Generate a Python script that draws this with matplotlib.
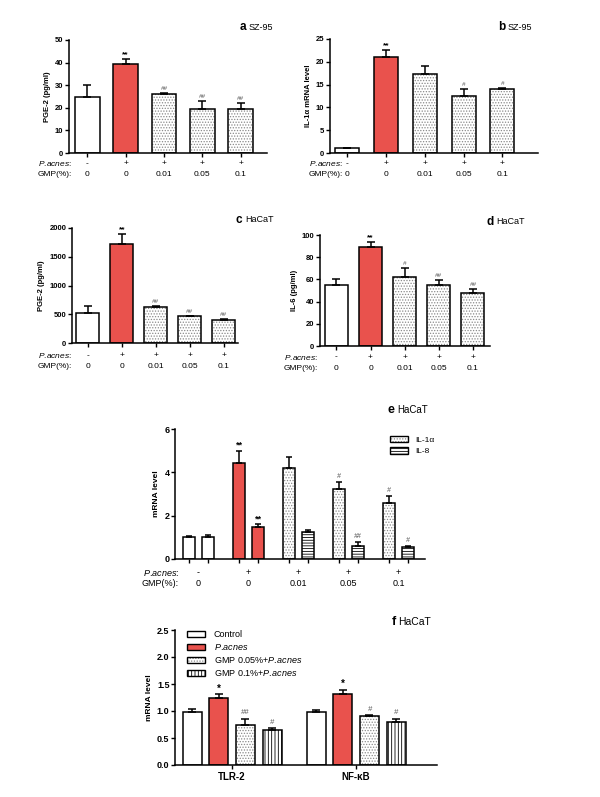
import numpy as np
import matplotlib
matplotlib.use('Agg')
import matplotlib.pyplot as plt
from matplotlib.patches import Patch
from matplotlib.transforms import blended_transform_factory

plt.rcParams['font.family'] = ['Liberation Sans', 'DejaVu Sans']
plt.rcParams['mathtext.fontset'] = 'custom'
plt.rcParams['mathtext.rm'] = 'Liberation Sans'
plt.rcParams['mathtext.it'] = 'Liberation Sans:italic'
plt.rcParams['mathtext.bf'] = 'Liberation Sans:bold'
plt.rcParams['hatch.linewidth'] = 0.6

# ---------------- data ----------------
pacnes_row = ['-', '+', '+', '+', '+']
gmp_row = ['0', '0', '0.01', '0.05', '0.1']

a_vals = [24.6, 39.2, 26.2, 19.5, 19.4]
a_errs = [5.7, 2.5, 0.4, 3.3, 2.9]
a_marks = ['', '**', '##', '##', '##']

b_vals = [1.0, 21.0, 17.3, 12.5, 14.0]
b_errs = [0.1, 1.5, 1.8, 1.6, 0.15]
b_marks = ['', '**', '', '#', '#']

c_vals = [522, 1728, 626, 464, 400]
c_errs = [116, 168, 15, 12, 22]
c_marks = ['', '**', '##', '##', '##']

d_vals = [54.7, 89.5, 62.5, 55.0, 48.0]
d_errs = [5.7, 4.2, 8.0, 4.8, 3.6]
d_marks = ['', '**', '#', '##', '##']

e_il1a = [1.02, 4.42, 4.18, 3.25, 2.60]
e_il1a_err = [0.04, 0.58, 0.55, 0.29, 0.31]
e_il1a_marks = ['', '**', '', '#', '#']
e_il8 = [1.02, 1.48, 1.23, 0.62, 0.55]
e_il8_err = [0.08, 0.12, 0.11, 0.15, 0.03]
e_il8_marks = ['', '**', '', '##', '#']

PACNES_IT = '$\\mathit{P.\\!acnes}$'
f_genes = ['TLR-2', 'NF-κB']
f_groups = ['Control', PACNES_IT, 'GMP 0.05%+' + PACNES_IT, 'GMP 0.1%+' + PACNES_IT]
f_vals = [[0.99, 1.25, 0.74, 0.64], [0.99, 1.31, 0.90, 0.79]]
f_errs = [[0.04, 0.06, 0.12, 0.04], [0.02, 0.08, 0.03, 0.07]]
f_marks = [['', '*', '##', '#'], ['', '*', '#', '#']]

# ---------------- style ----------------
RED = '#E9524D'
DOTC = '#8a8a8a'
W, H = 600, 797
fig = plt.figure(figsize=(6, 7.97), dpi=100)


def rect(l, r, t, b):
    return [l / W, 1 - b / H, (r - l) / W, (b - t) / H]


def draw_bar(ax, x, h, w, style):
    if style == 'white':
        ax.bar(x, h, w, color='white', edgecolor='k', lw=1.1, zorder=2)
    elif style == 'red':
        ax.bar(x, h, w, color=RED, edgecolor='k', lw=1.1, zorder=2)
    else:
        hatch = {'dot': '......', 'hline': '------', 'vline': '|||||'}[style]
        hc = DOTC if style == 'dot' else 'k'
        ax.bar(x, h, w, color='white', edgecolor=hc, hatch=hatch, lw=0, zorder=2)
        ax.bar(x, h, w, fill=False, edgecolor='k', lw=1.1, zorder=2.5)


def style_handle(style):
    if style == 'white':
        return Patch(facecolor='white', edgecolor='k', lw=1.0)
    if style == 'red':
        return Patch(facecolor=RED, edgecolor='k', lw=1.0)
    hatch = {'dot': '......', 'hline': '------', 'vline': '|||||'}[style]
    hc = DOTC if style == 'dot' else 'k'
    return (Patch(facecolor='white', edgecolor=hc, hatch=hatch, lw=0),
            Patch(fill=False, edgecolor='k', lw=1.0))


def errbar(ax, x, h, e, cap=3):
    ax.errorbar([x], [h], yerr=[[0], [e]], fmt='none', ecolor='k',
                elinewidth=1.1, capsize=cap, capthick=1.1, zorder=3)


def mark(ax, x, y, m, fs=6):
    if not m:
        return
    if m.startswith('*'):
        ax.annotate(m, (x, y), xytext=(0, 0.5), textcoords='offset points',
                    ha='center', va='bottom', fontsize=fs, fontweight='bold', color='k')
    else:
        ax.annotate(m, (x, y), xytext=(0, 1.5), textcoords='offset points',
                    ha='center', va='bottom', fontsize=fs - 1.5, style='italic', color='#555555')


def base_axes(ax, ymax, ystep, ylabel, fs_tick=5.5, fs_lab=5.5, fmt=None):
    for s in ['top', 'right']:
        ax.spines[s].set_visible(False)
    for s in ['left', 'bottom']:
        ax.spines[s].set_linewidth(1.1)
    ax.set_ylim(0, ymax)
    yt = np.arange(0, ymax + ystep / 2, ystep)
    ax.set_yticks(yt)
    if fmt:
        ax.set_yticklabels([fmt % v for v in yt])
    ax.tick_params(axis='y', length=3, width=1.0, labelsize=fs_tick, pad=1)
    ax.tick_params(axis='x', length=3, width=1.0, labelbottom=False)
    for lab in ax.get_yticklabels():
        lab.set_fontweight('bold')
    ax.set_ylabel(ylabel, fontsize=fs_lab, fontweight='bold', labelpad=3)


def row_labels(ax, xs, dx_px, dy1_px, dy2_px, fs=6):
    tr = blended_transform_factory(ax.transData, ax.transAxes)
    for x, p, g in zip(xs, pacnes_row, gmp_row):
        ax.annotate(p, (x, 0), xycoords=tr, xytext=(0, -dy1_px * 0.72), textcoords='offset points',
                    ha='center', va='center', fontsize=fs, annotation_clip=False)
        ax.annotate(g, (x, 0), xycoords=tr, xytext=(0, -dy2_px * 0.72), textcoords='offset points',
                    ha='center', va='center', fontsize=fs, annotation_clip=False)
    ax.annotate(PACNES_IT + ':', (0, 0), xycoords='axes fraction', xytext=(dx_px * 0.72, -dy1_px * 0.72),
                textcoords='offset points', ha='right', va='center', fontsize=fs, annotation_clip=False)
    ax.annotate('GMP(%):', (0, 0), xycoords='axes fraction', xytext=(dx_px * 0.72, -dy2_px * 0.72),
                textcoords='offset points', ha='right', va='center', fontsize=fs, annotation_clip=False)


def panel_label(letter, cell, x_px, y_px, fs_l=8.5, fs_c=6.5):
    fig.text((x_px - 1.5) / W, 1 - y_px / H, letter, ha='right', va='center', fontsize=fs_l, fontweight='bold')
    fig.text((x_px + 1) / W, 1 - y_px / H, cell, ha='left', va='center', fontsize=fs_c)


single_styles = ['white', 'red', 'dot', 'dot', 'dot']


def single_panel(r, vals, errs, marks, ymax, ystep, ylabel, xlim, width, dx, dy1, dy2):
    ax = fig.add_axes(rect(*r))
    xs = np.arange(len(vals))
    for x, v, e, m, s in zip(xs, vals, errs, marks, single_styles):
        draw_bar(ax, x, v, width, s)
        errbar(ax, x, v, e)
        mark(ax, x, v + e, m)
    base_axes(ax, ymax, ystep, ylabel)
    ax.set_xlim(*xlim)
    ax.set_xticks(xs)
    row_labels(ax, xs, dx, dy1, dy2)
    return ax


# ---- panel a ----
single_panel((69, 267, 40, 153), a_vals, a_errs, a_marks, 50, 10, 'PGE-2 (pg/ml)',
             (-0.48, 4.69), 0.65, 3, 11, 22)
panel_label('a', 'SZ-95', 248, 27)

# ---- panel b ----
single_panel((330, 538, 39, 153), b_vals, b_errs, b_marks, 25, 5, 'IL-1α mRNA level',
             (-0.45, 4.92), 0.62, 13, 11, 22)
panel_label('b', 'SZ-95', 507, 27)

# ---- panel c ----
single_panel((72, 238, 228, 343), c_vals, c_errs, c_marks, 2000, 500, 'PGE-2 (pg/ml)',
             (-0.47, 4.42), 0.68, 0, 13, 24)
panel_label('c', 'HaCaT', 244, 220)

# ---- panel d ----
single_panel((320, 490, 235, 346), d_vals, d_errs, d_marks, 100, 20, 'IL-6 (pg/ml)',
             (-0.48, 4.5), 0.67, -2, 11, 22)
panel_label('d', 'HaCaT', 495, 222)

# ---- panel e ----
axe = fig.add_axes(rect(175, 425, 429, 559))
gx = np.arange(5)
off, bw = 0.19, 0.25
il8_styles = ['white', 'red', 'hline', 'hline', 'hline']
for i in range(5):
    draw_bar(axe, gx[i] - off, e_il1a[i], bw, single_styles[i])
    errbar(axe, gx[i] - off, e_il1a[i], e_il1a_err[i], cap=2.5)
    mark(axe, gx[i] - off, e_il1a[i] + e_il1a_err[i], e_il1a_marks[i], fs=6.5)
    draw_bar(axe, gx[i] + off, e_il8[i], bw, il8_styles[i])
    errbar(axe, gx[i] + off, e_il8[i], e_il8_err[i], cap=2.5)
    mark(axe, gx[i] + off, e_il8[i] + e_il8_err[i], e_il8_marks[i], fs=6.5)
base_axes(axe, 6, 2, 'mRNA level', fs_tick=6.5, fs_lab=6)
axe.set_xlim(-0.47, 4.53)
axe.set_xticks(np.concatenate([gx - off, gx + off]))
row_labels(axe, gx, 4, 14, 25, fs=6.5)
axe.legend([style_handle('dot'), style_handle('hline')], ['IL-1α', 'IL-8'],
           loc='upper left', bbox_to_anchor=(0.86, 0.95), frameon=False, fontsize=6,
           handlelength=2.2, handleheight=0.9, handletextpad=0.8, labelspacing=0.35,
           borderaxespad=0, borderpad=0)
panel_label('e', 'HaCaT', 396, 410, fs_l=9, fs_c=7)

# ---- panel f ----
axf = fig.add_axes(rect(175, 437, 630, 765))
group_gap = 4.65
f_styles = ['white', 'red', 'dot', 'vline']
for gi in range(2):
    for bi in range(4):
        x = gi * group_gap + bi
        v, e = f_vals[gi][bi], f_errs[gi][bi]
        draw_bar(axf, x, v, 0.71, f_styles[bi])
        errbar(axf, x, v, e, cap=3)
        mark(axf, x, v + e, f_marks[gi][bi], fs=7)
base_axes(axf, 2.5, 0.5, 'mRNA level', fs_tick=6.5, fs_lab=6, fmt='%.1f')
axf.set_xlim(-0.64, 9.18)
axf.set_xticks([1.5, group_gap + 1.5])
axf.set_xticklabels(f_genes)
axf.tick_params(axis='x', length=3, width=1.0, labelbottom=True, labelsize=7, pad=2)
for lab in axf.get_xticklabels():
    lab.set_fontweight('bold')
axf.legend([style_handle(s) for s in f_styles], f_groups,
           loc='upper left', bbox_to_anchor=(0.045, 1.0), frameon=False, fontsize=6.5,
           handlelength=2.0, handleheight=0.7, handletextpad=1.0, labelspacing=0.35,
           borderaxespad=0, borderpad=0)
panel_label('f', 'HaCaT', 397, 622, fs_l=9, fs_c=7.5)

fig.savefig('out.png', dpi=100)
